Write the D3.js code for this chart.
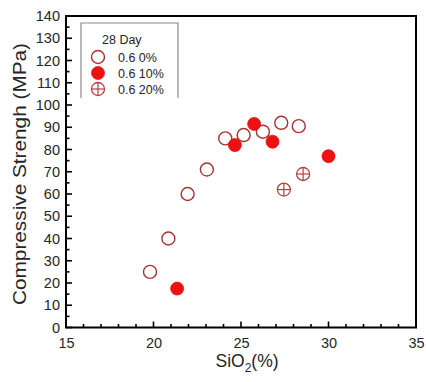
<!DOCTYPE html>
<html>
<head>
<meta charset="utf-8">
<script src="https://cdn.jsdelivr.net/npm/d3@7"></script>
<style>
  html, body { margin: 0; padding: 0; background: #fff; }
  svg { display: block; font-family: Arial, "Liberation Sans", sans-serif; }
</style>
</head>
<body>
<svg id="chart" width="426" height="382"></svg>
<script>
// Series: SiO2 content (%) vs 28-day compressive strength (MPa)
const sio2_0 = [19.8, 20.85, 21.95, 23.05, 24.1, 25.15, 26.25, 27.3, 28.3];
const str_0  = [25, 40, 60, 71, 85, 86.5, 88, 92, 90.5];
const sio2_10 = [21.35, 24.65, 25.75, 26.8, 30.0];
const str_10  = [17.5, 82, 91.5, 83.5, 77];
const sio2_20 = [27.45, 28.55];
const str_20  = [62, 69];
const seriesNames = ["0.6 0%", "0.6 10%", "0.6 20%"];
const legendTitle = "28 Day";
const xTicks = [15, 20, 25, 30, 35];
const yTicks = [0, 10, 20, 30, 40, 50, 60, 70, 80, 90, 100, 110, 120, 130, 140];

const svg = d3.select("#chart");
const plotLeft = 66, plotRight = 416, plotTop = 16, plotBottom = 327.5;

const x = d3.scaleLinear().domain([15, 35]).range([plotLeft, plotRight]);
const y = d3.scaleLinear().domain([0, 140]).range([plotBottom, plotTop]);

const textColor = "#262626";
const ringColor = "#a83232";
const fillRed = "#ee1111";
const crossColor = "#b84040";
const r = 6.5;

// Major and minor ticks, pointing into the frame
const g = svg.append("g");
d3.range(15, 35.01, 1).forEach(v => {
  const major = v % 5 === 0;
  g.append("line").attr("x1", x(v)).attr("x2", x(v))
    .attr("y1", plotBottom).attr("y2", plotBottom - (major ? 6 : 3.5))
    .attr("stroke", "#000").attr("stroke-width", 1.6);
});
d3.range(0, 140.01, 5).forEach(v => {
  const major = v % 10 === 0;
  g.append("line").attr("x1", plotLeft).attr("x2", plotLeft + (major ? 6 : 3.5))
    .attr("y1", y(v)).attr("y2", y(v))
    .attr("stroke", "#000").attr("stroke-width", 1.6);
});

// Axes for the tick labels
const xAxis = svg.append("g").attr("transform", `translate(0,${plotBottom})`)
  .call(d3.axisBottom(x).tickValues(xTicks).tickSize(0).tickPadding(10));
const yAxis = svg.append("g").attr("transform", `translate(${plotLeft},0)`)
  .call(d3.axisLeft(y).tickValues(yTicks).tickSize(0).tickPadding(6));
[xAxis, yAxis].forEach(a => {
  a.select(".domain").remove();
  a.selectAll("text").attr("font-size", 14.5).attr("fill", textColor)
    .attr("font-family", "Arial, 'Liberation Sans', sans-serif");
});

// Frame
svg.append("rect").attr("x", plotLeft).attr("y", plotTop)
  .attr("width", plotRight - plotLeft).attr("height", plotBottom - plotTop)
  .attr("fill", "none").attr("stroke", "#000").attr("stroke-width", 2);

// Axis titles
svg.append("text").attr("transform", "translate(26,174) rotate(-90)")
  .attr("text-anchor", "middle").attr("font-size", 18).attr("fill", textColor)
  .attr("textLength", 262).attr("lengthAdjust", "spacingAndGlyphs")
  .text("Compressive Strengh (MPa)");
const xt = svg.append("text").attr("x", 247).attr("y", 367)
  .attr("text-anchor", "middle").attr("font-size", 17.5).attr("fill", textColor);
xt.append("tspan").text("SiO");
xt.append("tspan").attr("font-size", 12).attr("dy", 5).text("2");
xt.append("tspan").attr("dy", -5).text("(%)");

// Marker drawers
function openMark(sel) {
  sel.append("circle").attr("r", r).attr("fill", "#fff")
    .attr("stroke", ringColor).attr("stroke-width", 1.4);
}
function filledMark(sel) {
  sel.append("circle").attr("r", r).attr("fill", fillRed).attr("stroke", fillRed).attr("stroke-width", 0.8);
}
function crossMark(sel) {
  sel.append("circle").attr("r", r).attr("fill", "#fff")
    .attr("stroke", crossColor).attr("stroke-width", 1.3);
  sel.append("line").attr("x1", -r).attr("x2", r).attr("y1", 0).attr("y2", 0)
    .attr("stroke", crossColor).attr("stroke-width", 1.2);
  sel.append("line").attr("y1", -r).attr("y2", r).attr("x1", 0).attr("x2", 0)
    .attr("stroke", crossColor).attr("stroke-width", 1.2);
}

function plotSeries(xs, ys, draw) {
  svg.append("g").selectAll("g").data(xs.map((v, i) => [v, ys[i]])).join("g")
    .attr("transform", d => `translate(${x(d[0])},${y(d[1])})`)
    .each(function () { draw(d3.select(this)); });
}
plotSeries(sio2_0, str_0, openMark);
plotSeries(sio2_10, str_10, filledMark);
plotSeries(sio2_20, str_20, crossMark);

// Legend
const lg = svg.append("g");
lg.append("path").attr("d", "M81,98 L81,23 L178,23 L178,98")
  .attr("fill", "none").attr("stroke", "#8a8a8a").attr("stroke-width", 1.2);
lg.append("text").attr("x", 102).attr("y", 44).attr("font-size", 12.5)
  .attr("fill", textColor).text(legendTitle);
const draws = [openMark, filledMark, crossMark];
seriesNames.forEach((name, i) => {
  const cy = 57 + i * 16;
  const m = lg.append("g").attr("transform", `translate(98,${cy})`);
  draws[i](m);
  lg.append("text").attr("x", 118).attr("y", cy + 4.5).attr("font-size", 12.5)
    .attr("fill", textColor).text(name);
});
</script>
</body>
</html>
